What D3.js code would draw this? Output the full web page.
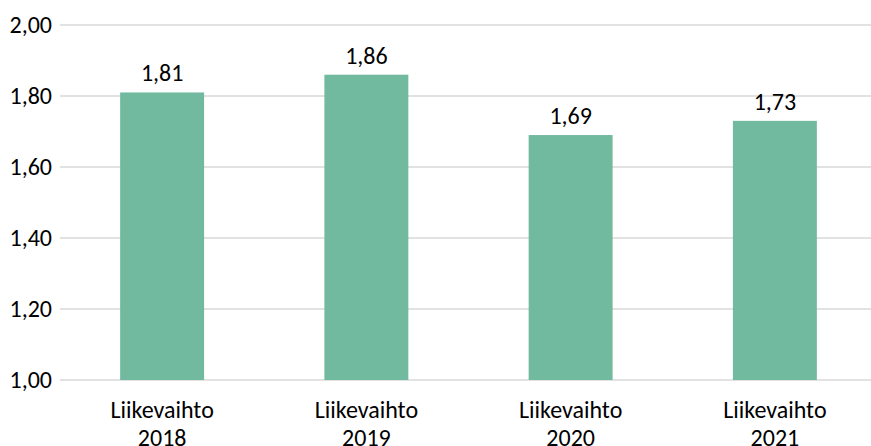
<!DOCTYPE html>
<html><head><meta charset="utf-8">
<script src="https://cdn.jsdelivr.net/npm/d3@7"></script>
<style>body{margin:0;background:#fff;} text{font-family:Carlito, "Open Sans", Lato, sans-serif;}</style>
</head><body>
<svg id="c" width="871" height="446"></svg>
<script>
const categories = ["Liikevaihto 2018", "Liikevaihto 2019", "Liikevaihto 2020", "Liikevaihto 2021"];
const values = [1.81, 1.86, 1.69, 1.73];
const yTicks = [1.0, 1.2, 1.4, 1.6, 1.8, 2.0];

const svg = d3.select("#c");
const fmt = v => d3.format(".2f")(v).replace(".", ",");
const x = d3.scaleBand().domain(categories).range([60, 877]).paddingInner(0.589).paddingOuter(0.2945);
const y = d3.scaleLinear().domain([1.0, 2.0]).range([380, 25]);

svg.append("g").selectAll("line").data(yTicks).join("line")
  .attr("x1", 60).attr("x2", 877)
  .attr("y1", d => y(d)).attr("y2", d => y(d))
  .attr("stroke", "#d9d9d9").attr("stroke-width", 1.5);

svg.append("g").selectAll("text").data(yTicks).join("text")
  .attr("x", 52).attr("y", d => y(d) + 7.5)
  .attr("text-anchor", "end").attr("font-size", 24).attr("fill", "#000")
  .text(fmt);

svg.append("g").selectAll("rect").data(values).join("rect")
  .attr("x", (d, i) => x(categories[i])).attr("width", x.bandwidth())
  .attr("y", d => y(d)).attr("height", d => y(1.0) - y(d))
  .attr("fill", "#71b99f");

svg.append("g").selectAll("text").data(values).join("text")
  .attr("x", (d, i) => x(categories[i]) + x.bandwidth() / 2)
  .attr("y", d => y(d) - 11)
  .attr("text-anchor", "middle").attr("font-size", 24).attr("fill", "#000")
  .text(fmt);

const cat = svg.append("g").selectAll("text").data(categories).join("text")
  .attr("x", d => x(d) + x.bandwidth() / 2)
  .attr("y", 418)
  .attr("text-anchor", "middle").attr("font-size", 24).attr("fill", "#000");
cat.each(function(d) {
  const parts = d.split(" ");
  const t = d3.select(this);
  const cx = t.attr("x");
  parts.forEach((p, i) => t.append("tspan").attr("x", cx).attr("dy", i === 0 ? 0 : 28).text(p));
});
</script>
</body></html>
